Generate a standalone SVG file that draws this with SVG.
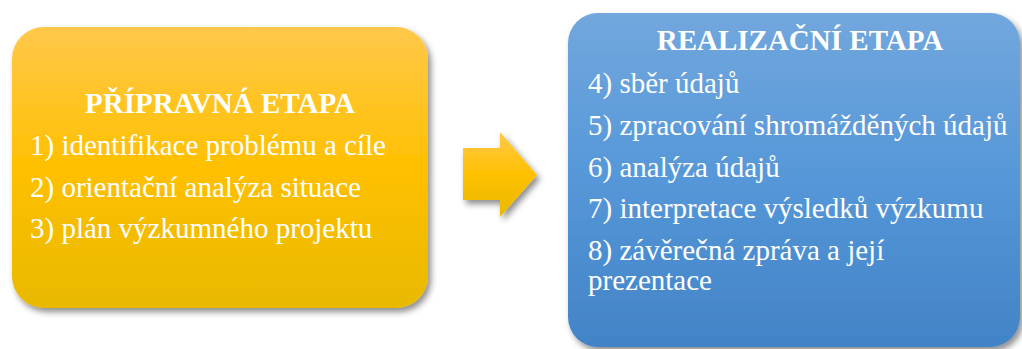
<svg xmlns="http://www.w3.org/2000/svg" width="1022" height="349" viewBox="0 0 1022 349">
<defs>
<linearGradient id="gy" x1="0" y1="0" x2="0" y2="1">
<stop offset="0" stop-color="#FFC84B"/>
<stop offset="0.5" stop-color="#FFC000"/>
<stop offset="1" stop-color="#E8B900"/>
</linearGradient>
<linearGradient id="gb" x1="0" y1="0" x2="0" y2="1">
<stop offset="0" stop-color="#72A7DD"/>
<stop offset="0.5" stop-color="#5597D8"/>
<stop offset="1" stop-color="#4283C7"/>
</linearGradient>
<filter id="sh" x="-10%" y="-10%" width="125%" height="130%">
<feDropShadow dx="3" dy="4" stdDeviation="3" flood-color="#000" flood-opacity="0.45"/>
</filter>
</defs>
<style>
text{font-family:"Liberation Serif","Times New Roman",serif;fill:#fff;font-size:29px}
.t{font-weight:bold;text-anchor:middle}
</style>
<g id="node-priprava">
<rect x="12" y="27" width="416" height="281" rx="32" fill="url(#gy)" filter="url(#sh)"/>
<text class="t" x="220" y="113">PŘÍPRAVNÁ ETAPA</text>
<text x="30" y="155">1) identifikace problému a cíle</text>
<text x="30" y="197">2) orientační analýza situace</text>
<text x="30" y="238">3) plán výzkumného projektu</text>
</g>
<g id="connectors">
<polygon points="463,148 500,148 500,132 537,175 500,217 500,200 463,200" fill="url(#gy)" filter="url(#sh)"/>
</g>
<g id="node-realizace">
<rect x="568" y="13" width="452" height="334" rx="30" fill="url(#gb)" filter="url(#sh)"/>
<text class="t" x="800" y="50">REALIZAČNÍ ETAPA</text>
<text x="588" y="93">4) sběr údajů</text>
<text x="588" y="135">5) zpracování shromážděných údajů</text>
<text x="588" y="177">6) analýza údajů</text>
<text x="588" y="218">7) interpretace výsledků výzkumu</text>
<text x="588" y="260">8) závěrečná zpráva a její</text>
<text x="588" y="290">prezentace</text>
</g>
</svg>
